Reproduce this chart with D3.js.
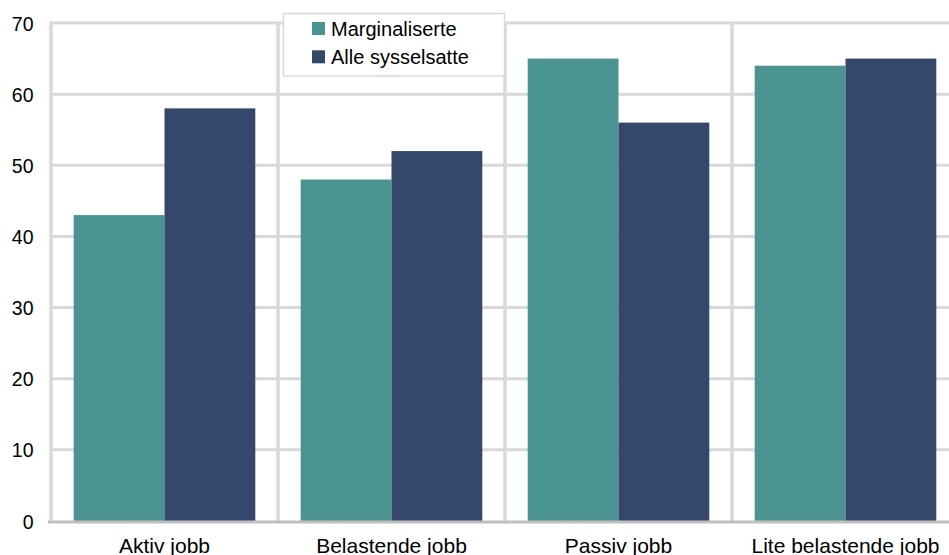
<!DOCTYPE html>
<html>
<head>
<meta charset="utf-8">
<script src="https://cdn.jsdelivr.net/npm/d3@7"></script>
<style>
  html, body { margin: 0; padding: 0; background: #fff; }
  svg { display: block; font-family: "Liberation Sans", Arial, sans-serif; }
</style>
</head>
<body>
<svg id="chart" width="949" height="555"></svg>
<script>
// Job categories and shares (%) per group
const categories = ["Aktiv jobb", "Belastende jobb", "Passiv jobb", "Lite belastende jobb"];
const seriesNames = ["Marginaliserte", "Alle sysselsatte"];
const marginaliserte = [43, 48, 65, 64];
const alleSysselsatte = [58, 52, 56, 65];
const yTicks = [0, 10, 20, 30, 40, 50, 60, 70];
const colors = ["#4b9491", "#35476a"];

const svg = d3.select("#chart");
const plotLeft = 51, plotRight = 959, plotTop = 23, plotBottom = 521;

const x0 = d3.scaleBand().domain(categories).range([plotLeft, plotRight]).padding(0);
const x1 = d3.scaleBand().domain(seriesNames).range([0, x0.bandwidth()])
  .paddingInner(0).paddingOuter(0.25);
const y = d3.scaleLinear().domain([0, 70]).range([plotBottom, plotTop]);

const values = [marginaliserte, alleSysselsatte];

// Horizontal gridlines
svg.append("g")
  .selectAll("line")
  .data(yTicks.filter(d => d > 0))
  .join("line")
  .attr("x1", plotLeft).attr("x2", plotRight)
  .attr("y1", d => y(d)).attr("y2", d => y(d))
  .attr("stroke", "#d9d9d9").attr("stroke-width", 3);

// Vertical category separators
svg.append("g")
  .selectAll("line")
  .data(categories)
  .join("line")
  .attr("x1", d => x0(d)).attr("x2", d => x0(d))
  .attr("y1", y(70) - 1.5).attr("y2", plotBottom)
  .attr("stroke", "#d9d9d9").attr("stroke-width", 3.5);

// Bars
const groups = svg.append("g")
  .selectAll("g")
  .data(categories)
  .join("g")
  .attr("transform", d => `translate(${x0(d)},0)`);

groups.selectAll("rect")
  .data((d, i) => seriesNames.map((s, j) => ({ s, j, v: values[j][i] })))
  .join("rect")
  .attr("x", d => x1(d.s))
  .attr("width", x1.bandwidth())
  .attr("y", d => y(d.v))
  .attr("height", d => plotBottom - y(d.v))
  .attr("fill", d => colors[d.j]);

// Baseline
svg.append("line")
  .attr("x1", plotLeft - 3).attr("x2", plotRight)
  .attr("y1", plotBottom + 1).attr("y2", plotBottom + 1)
  .attr("stroke", "#bfbfbf").attr("stroke-width", 3);

// Y axis labels
const yAxis = d3.axisLeft(y).tickValues(yTicks).tickSize(0).tickPadding(0);
svg.append("g")
  .attr("transform", "translate(33.5,0)")
  .call(yAxis)
  .call(g => g.select(".domain").remove())
  .call(g => g.selectAll("text")
    .attr("font-size", 19.5)
    .attr("font-family", "Liberation Sans, Arial, sans-serif")
    .attr("fill", "#000")
    .attr("dy", "0.36em"));

// X axis labels
const xAxis = d3.axisBottom(x0).tickSize(0).tickPadding(0);
svg.append("g")
  .attr("transform", `translate(0,${plotBottom})`)
  .call(xAxis)
  .call(g => g.select(".domain").remove())
  .call(g => g.selectAll("text")
    .attr("font-size", 21)
    .attr("font-family", "Liberation Sans, Arial, sans-serif")
    .attr("fill", "#000")
    .attr("dy", 0)
    .attr("y", 32));

// Legend
const legend = svg.append("g").attr("transform", "translate(283,13)");
legend.append("rect")
  .attr("x", 0.5).attr("y", 0.5)
  .attr("width", 221).attr("height", 62.5)
  .attr("fill", "#fff")
  .attr("stroke", "#d9d9d9").attr("stroke-width", 1.5);
const items = legend.selectAll("g.item")
  .data(seriesNames)
  .join("g")
  .attr("class", "item")
  .attr("transform", (d, i) => `translate(29,${15.5 + i * 28.3})`);
items.append("rect")
  .attr("x", 0).attr("y", -6.5)
  .attr("width", 13).attr("height", 13)
  .attr("fill", (d, i) => colors[i]);
items.append("text")
  .attr("x", 19).attr("y", 7.5)
  .attr("font-size", 20)
  .attr("fill", "#000")
  .text(d => d);
</script>
</body>
</html>
